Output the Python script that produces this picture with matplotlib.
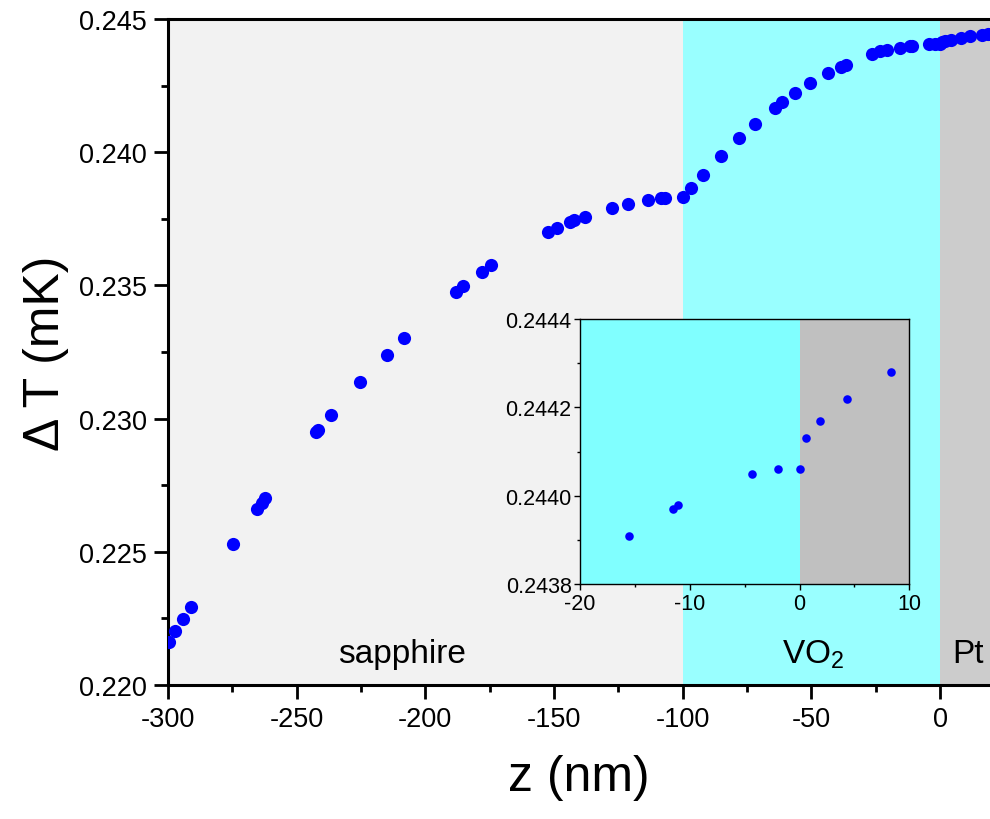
"""
Temperature rise across sapphire / VO2 / Pt stack, with zoomed inset near the interface
"""
import matplotlib
matplotlib.use('Agg')
import matplotlib.pyplot as plt
from matplotlib.ticker import MultipleLocator, FormatStrFormatter

plt.rcParams['font.family'] = ['Liberation Sans', 'DejaVu Sans']
plt.rcParams['mathtext.fontset'] = 'custom'
plt.rcParams['mathtext.rm'] = 'Liberation Sans'
plt.rcParams['axes.unicode_minus'] = False

# depth (nm) and temperature rise (mK)
z = [-299.8, -297.3, -294.3, -291.2, -274.9, -265.3, -263.5, -262.3,
     -242.6, -241.6, -236.8, -225.4, -215.0, -208.2, -188.1, -185.2,
     -178.1, -174.5, -152.2, -149.0, -143.8, -142.2, -138.0, -127.6,
     -121.4, -113.6, -108.4, -106.9, -100.0, -96.6, -92.2, -85.2,
     -78.0, -71.8, -64.1, -61.3, -56.2, -50.5, -43.4, -38.5, -36.5,
     -26.5, -23.3, -20.5, -15.5, -11.5, -11.1, -4.3, -2.0, 0.0, 0.6,
     1.9, 4.3, 8.3, 11.7, 16.2, 18.8]
dT = [0.22160, 0.22202, 0.22248, 0.22292, 0.22529, 0.22661, 0.22685, 0.22702,
      0.22951, 0.22958, 0.23014, 0.23136, 0.23239, 0.23303, 0.23474, 0.23497,
      0.23549, 0.23577, 0.23699, 0.23714, 0.23737, 0.23747, 0.23756, 0.23791,
      0.23806, 0.23821, 0.23827, 0.23828, 0.23832, 0.23867, 0.23916, 0.23987,
      0.24053, 0.24106, 0.24166, 0.24187, 0.24222, 0.24259, 0.24297, 0.24319,
      0.24327, 0.24367, 0.24379, 0.24384, 0.24391, 0.24397, 0.24398, 0.24405,
      0.24406, 0.24406, 0.24413, 0.24417, 0.24422, 0.24428, 0.24435, 0.24440,
      0.24443]

# layers: name, start, end
layer_names = ['sapphire', 'VO$_2$', 'Pt']
layer_start = [-300, -100, 0]
layer_end = [-100, 0, 20]
layer_colors = ['#f2f2f2', '#99ffff', '#cccccc']
inset_colors = ['#f2f2f2', '#80ffff', '#c0c0c0']
label_x = [-209, -49.5, 10.9]

fig = plt.figure(figsize=(9.9, 8.2), dpi=100)
ax = fig.add_axes([0.1697, 0.1634, 0.8303, 0.8122])

for s, e, c in zip(layer_start, layer_end, layer_colors):
    ax.axvspan(s, e, color=c, lw=0, zorder=0)
for name, xl in zip(layer_names, label_x):
    ax.text(xl, 0.22085, name, fontsize=24, ha='center', va='baseline')

ax.scatter(z, dT, s=90, color='#0000ff', lw=0, zorder=3)

ax.set_xlim(-300, 19.4)
ax.set_ylim(0.220, 0.245)
ax.xaxis.set_major_locator(MultipleLocator(50))
ax.xaxis.set_minor_locator(MultipleLocator(25))
ax.yaxis.set_major_locator(MultipleLocator(0.005))
ax.yaxis.set_minor_locator(MultipleLocator(0.0025))
ax.yaxis.set_major_formatter(FormatStrFormatter('%.3f'))
ax.tick_params(which='major', direction='out', length=10, width=2, labelsize=19.5, pad=5)
ax.tick_params(which='minor', direction='out', length=5, width=2)
for side in ['left', 'bottom', 'top']:
    ax.spines[side].set_linewidth(2.2)
ax.spines['right'].set_visible(False)
ax.set_xlabel('z (nm)', fontsize=36, labelpad=16)
ax.set_ylabel('\u0394 T (mK)', fontsize=36, labelpad=7)

# inset around the VO2 / Pt interface
ins = fig.add_axes([0.5859, 0.2862, 0.3326, 0.3236])
for s, e, c in zip(layer_start, layer_end, inset_colors):
    ins.axvspan(s, e, color=c, lw=0, zorder=0)
ins.scatter(z, dT, s=38, color='#0000ff', lw=0, zorder=3)
ins.set_xlim(-20, 10)
ins.set_ylim(0.2438, 0.2444)
ins.xaxis.set_major_locator(MultipleLocator(10))
ins.xaxis.set_minor_locator(MultipleLocator(5))
ins.yaxis.set_major_locator(MultipleLocator(0.0002))
ins.yaxis.set_minor_locator(MultipleLocator(0.0001))
ins.yaxis.set_major_formatter(FormatStrFormatter('%.4f'))
ins.tick_params(which='major', direction='out', length=4, width=1, labelsize=15.5, pad=2)
ins.tick_params(which='minor', direction='out', length=2.5, width=1)
for sp in ins.spines.values():
    sp.set_linewidth(1)

fig.savefig('out.png', dpi=100)
